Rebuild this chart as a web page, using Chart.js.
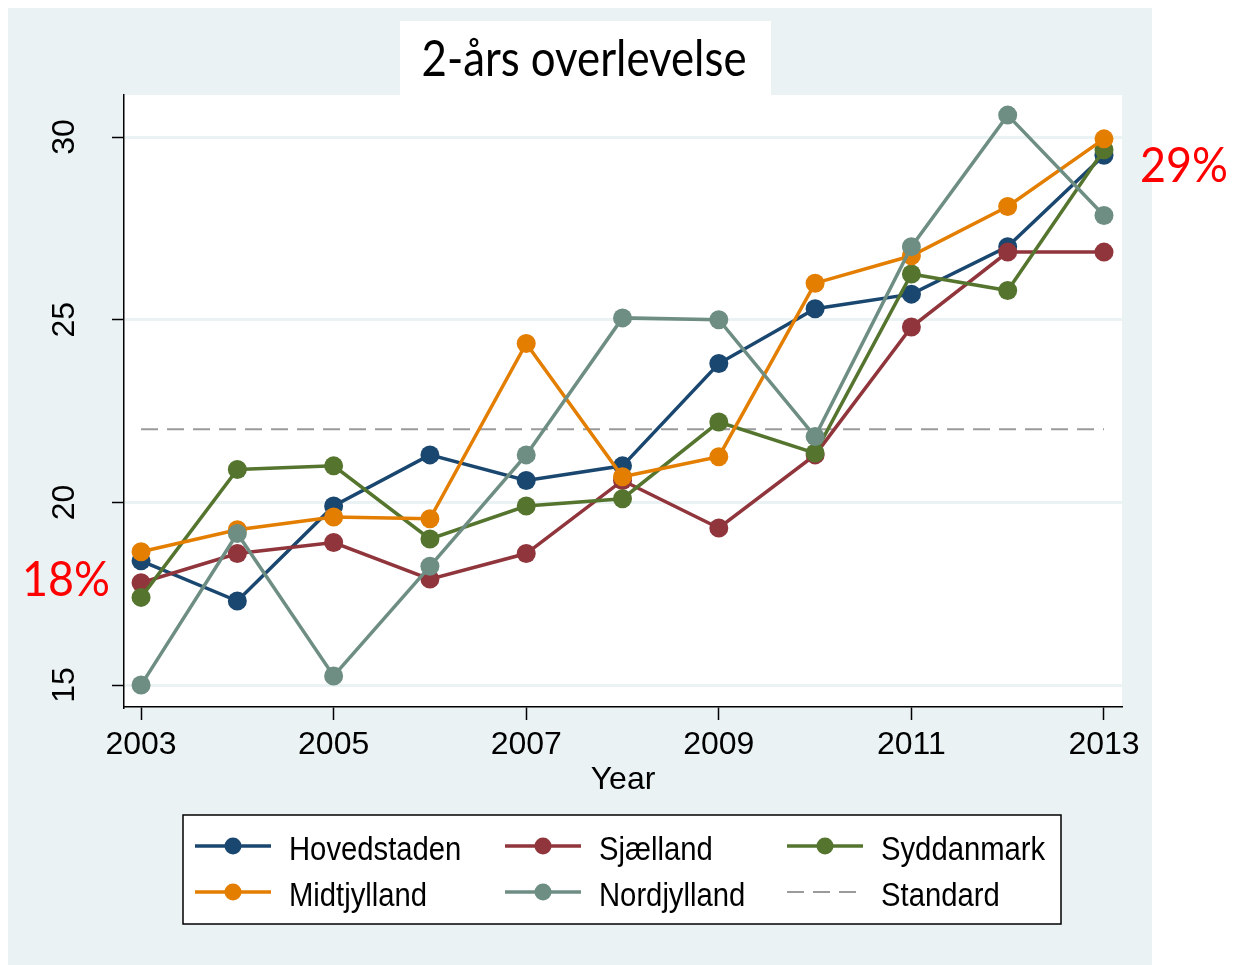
<!DOCTYPE html>
<html>
<head>
<meta charset="utf-8">
<title>2-års overlevelse</title>
<script src="https://cdn.jsdelivr.net/npm/chart.js@4"></script>
<style>
  html, body { margin: 0; padding: 0; background: #fff; }
  #wrap { width: 1233px; height: 965px; }
</style>
</head>
<body>
<div id="wrap"><canvas id="chart" width="1233" height="965"></canvas></div>
<script>
// values (2-year survival, %)
const years = [2003, 2004, 2005, 2006, 2007, 2008, 2009, 2010, 2011, 2012, 2013];
const hovedstaden = [18.4, 17.3, 19.9, 21.3, 20.6, 21.0, 23.8, 25.3, 25.7, 27.0, 29.5];
const sjaelland   = [17.8, 18.6, 18.9, 17.9, 18.6, 20.6, 19.3, 21.3, 24.8, 26.85, 26.85];
const syddanmark  = [17.4, 20.9, 21.0, 19.0, 19.9, 20.1, 22.2, 21.35, 26.25, 25.8, 29.65];
const midtjylland = [18.65, 19.25, 19.6, 19.55, 24.35, 20.7, 21.25, 26.0, 26.75, 28.1, 29.95];
const nordjylland = [15.0, 19.15, 15.25, 18.25, 21.3, 25.05, 25.0, 21.8, 27.0, 30.6, 27.85];
const standard    = [22, 22, 22, 22, 22, 22, 22, 22, 22, 22, 22];

const xTicks = [2003, 2005, 2007, 2009, 2011, 2013];
const yTicks = [15, 20, 25, 30];
const seriesNames = ['Hovedstaden', 'Sjælland', 'Syddanmark', 'Midtjylland', 'Nordjylland', 'Standard'];
const annotations = [['18%', 2003], ['29%', 2013]];

// Stata looks narrow, use the narrow face if we have it
function fontExists(name) {
    var c = document.createElement('canvas').getContext('2d');
    var s = 'mmmwwwiiilll0123';
    c.font = '40px monospace';
    var a = c.measureText(s).width;
    c.font = '40px "' + name + '", monospace';
    return c.measureText(s).width !== a;
}
var narrow = fontExists('Liberation Sans Narrow');
var axisFont = narrow
    ? { family: '"Liberation Sans Narrow"', size: 35 }
    : { family: '"Liberation Sans", Arial, sans-serif', size: 32 };

function toPoints(values) {
    return values.map(function(v, i) { return { x: years[i], y: v }; });
}

function line(label, values, color, order) {
    return {
        label: label,
        data: toPoints(values),
        borderColor: color,
        backgroundColor: color,
        borderWidth: 3.5,
        pointRadius: 9.5,
        pointHoverRadius: 9.5,
        pointBorderWidth: 0,
        pointBackgroundColor: color,
        tension: 0,
        order: order
    };
}

var datasets = [
    line(seriesNames[0], hovedstaden, '#1a476f', 5),
    line(seriesNames[1], sjaelland, '#90353b', 4),
    line(seriesNames[2], syddanmark, '#55752f', 3),
    line(seriesNames[3], midtjylland, '#e37e00', 2),
    line(seriesNames[4], nordjylland, '#6e8e84', 1),
    {
        label: seriesNames[5],
        data: toPoints(standard),
        borderColor: '#9a9a9a',
        borderWidth: 2,
        borderDash: [17, 9],
        pointRadius: 0,
        pointHoverRadius: 0,
        order: 10
    }
];

// background panels (Stata s2color look + title box)
const panels = {
    id: 'panels',
    beforeDraw(chart) {
        var ctx = chart.ctx, a = chart.chartArea;
        ctx.save();
        ctx.fillStyle = '#ffffff';
        ctx.fillRect(0, 0, chart.width, chart.height);
        ctx.fillStyle = '#eaf2f3';
        ctx.fillRect(8, 8, 1144, 957);
        ctx.fillStyle = '#ffffff';
        ctx.fillRect(a.left, a.top, a.right - a.left, a.bottom - a.top);
        ctx.fillRect(400, 21, 371, a.top - 21);
        ctx.restore();
    }
};

// title and the red percentage notes
const texts = {
    id: 'texts',
    afterDraw(chart) {
        var ctx = chart.ctx;
        ctx.save();
        ctx.fillStyle = '#000';
        ctx.font = '51px Lato, "Open Sans", sans-serif';
        ctx.textAlign = 'center';
        ctx.textBaseline = 'alphabetic';
        ctx.fillText('2-års overlevelse', 584, 76, 325);

        ctx.fillStyle = '#ff0000';
        ctx.font = '48px Lato, "Open Sans", sans-serif';
        ctx.textAlign = 'left';
        ctx.fillText(annotations[0][0], 22, 596, 88);
        ctx.fillText(annotations[1][0], 1140, 182, 88);
        ctx.restore();
    }
};

// legend box, 3 columns like the Stata one
const boxLegend = {
    id: 'boxLegend',
    afterDraw(chart) {
        var ctx = chart.ctx;
        var colX = [195, 505, 787];
        var rowY = [846, 892];
        ctx.save();
        ctx.fillStyle = '#ffffff';
        ctx.fillRect(183, 815, 878, 109);
        ctx.strokeStyle = '#000';
        ctx.lineWidth = 1.5;
        ctx.strokeRect(183, 815, 878, 109);

        ctx.font = '34px "Liberation Sans", Arial, sans-serif';
        ctx.textBaseline = 'alphabetic';
        chart.data.datasets.forEach(function(ds, i) {
            var x = colX[i % 3], y = rowY[Math.floor(i / 3)];
            ctx.strokeStyle = ds.borderColor;
            ctx.lineWidth = ds.borderWidth;
            ctx.setLineDash(ds.borderDash || []);
            ctx.beginPath();
            ctx.moveTo(x, y);
            ctx.lineTo(x + 76, y);
            ctx.stroke();
            ctx.setLineDash([]);
            if (ds.pointRadius > 0) {
                ctx.fillStyle = ds.borderColor;
                ctx.beginPath();
                ctx.arc(x + 38, y, 8.5, 0, Math.PI * 2);
                ctx.fill();
            }
            ctx.fillStyle = '#000';
            var w = ctx.measureText(ds.label).width;
            ctx.fillText(ds.label, x + 94, y + 14, w * 0.86);
        });
        ctx.restore();
    }
};

var ctx = document.getElementById('chart').getContext('2d');
var myChart = new Chart(ctx, {
    type: 'line',
    data: { datasets: datasets },
    options: {
        responsive: false,
        animation: false,
        devicePixelRatio: 1,
        layout: {
            padding: { left: 0, top: 95, right: 111, bottom: 166 }
        },
        plugins: {
            legend: { display: false },
            tooltip: { enabled: false }
        },
        scales: {
            x: {
                type: 'linear',
                min: 2002.823,
                max: 2013.187,
                afterBuildTicks: function(s) { s.ticks = xTicks.map(function(v) { return { value: v }; }); },
                afterFit: function(s) { s.height = 92; },
                grid: { drawOnChartArea: false, tickLength: 13, tickColor: '#000', tickWidth: 1.5 },
                border: { color: '#000', width: 1.5 },
                ticks: {
                    autoSkip: false,
                    maxRotation: 0,
                    padding: 6,
                    color: '#000',
                    font: axisFont,
                    callback: function(v) { return String(v); }
                },
                title: { display: true, text: 'Year', color: '#000', font: axisFont, padding: 0 }
            },
            y: {
                min: 14.4,
                max: 31.15,
                afterBuildTicks: function(s) { s.ticks = yTicks.map(function(v) { return { value: v }; }); },
                afterFit: function(s) { s.width = 124; },
                grid: { color: '#eaf2f3', lineWidth: 3, tickLength: 12, tickColor: '#000', tickWidth: 1.5 },
                border: { color: '#000', width: 1.5 },
                ticks: {
                    autoSkip: false,
                    minRotation: 90,
                    maxRotation: 90,
                    crossAlign: 'center',
                    padding: 29,
                    color: '#000',
                    font: axisFont
                }
            }
        }
    },
    plugins: [panels, texts, boxLegend]
});
</script>
</body>
</html>
